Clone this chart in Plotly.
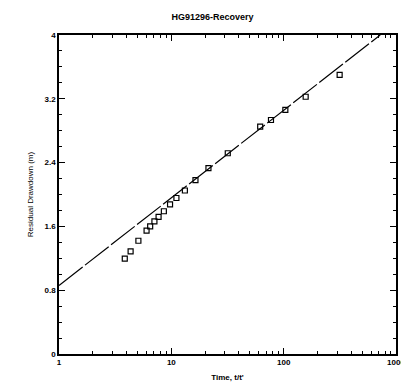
import plotly.graph_objects as go

# observed recovery data
time_ratio = [3.85, 4.34, 5.09, 6.02, 6.48, 7.07, 7.7, 8.58, 9.74, 11.1, 13.2, 16.4,
              21.4, 31.8, 61.8, 77.1, 103.5, 157, 315]
residual_dd = [1.195, 1.288, 1.42, 1.546, 1.60, 1.664, 1.72, 1.79, 1.877, 1.956, 2.05,
               2.18, 2.33, 2.517, 2.85, 2.934, 3.06, 3.226, 3.50]

# fitted straight line
fit_t = [1, 724]
fit_dd = [0.86, 4.0]

y_ticks = [0, 0.8, 1.6, 2.4, 3.2, 4]
y_labels = ["0", "0.8", "1.6", "2.4", "3.2", "4"]
x_ticks = [1, 10, 100, 1000]
x_labels = ["1", "10", "100", "1000"]
x_minor = [m * d for d in (1, 10, 100) for m in range(2, 10)]

fig = go.Figure()
fig.add_trace(go.Scatter(
    x=fit_t, y=fit_dd, mode='lines',
    line=dict(color='black', width=1.2, dash='30px,3px'),
    showlegend=False
))
fig.add_trace(go.Scatter(
    x=time_ratio, y=residual_dd, mode='markers',
    marker=dict(symbol='square-open', size=5, color='black', line=dict(width=1.2)),
    showlegend=False
))

axis_font = dict(family='Liberation Sans', size=8, color='black')
fig.update_layout(
    width=409, height=385,
    margin=dict(l=51, r=13, t=27, b=39),
    paper_bgcolor='white', plot_bgcolor='white',
    title=dict(text='<b>HG91296-Recovery</b>', x=0.5, xanchor='center', y=0.985, yanchor='top',
               font=dict(family='Liberation Sans', size=9, color='black')),
    xaxis=dict(
        type='log', range=[0, 3],
        tickvals=x_ticks, ticktext=x_labels,
        ticks='inside', ticklen=6, tickwidth=1.2, tickcolor='black',
        minor=dict(tickvals=x_minor, ticks='inside', ticklen=3, tickcolor='black', showgrid=False),
        showline=True, linecolor='black', linewidth=1.5, mirror='ticks',
        showgrid=False, zeroline=False,
        tickfont=dict(family='Liberation Sans', size=8, color='black', weight='bold'),
        title=dict(text="<b>Time, t/t'</b>", font=axis_font, standoff=8),
    ),
    yaxis=dict(
        range=[0, 4],
        tickvals=y_ticks, ticktext=y_labels,
        ticks='inside', ticklen=6, tickwidth=1.2, tickcolor='black',
        minor=dict(ticks='inside', ticklen=3, tickcolor='black', dtick=0.2, showgrid=False),
        showline=True, linecolor='black', linewidth=1.5, mirror='ticks',
        showgrid=False, zeroline=False,
        tickfont=dict(family='Liberation Sans', size=8, color='black', weight='bold'),
        title=dict(text='Residual Drawdown (m)', font=axis_font, standoff=10),
    ),
)

fig.write_html("out.html")
